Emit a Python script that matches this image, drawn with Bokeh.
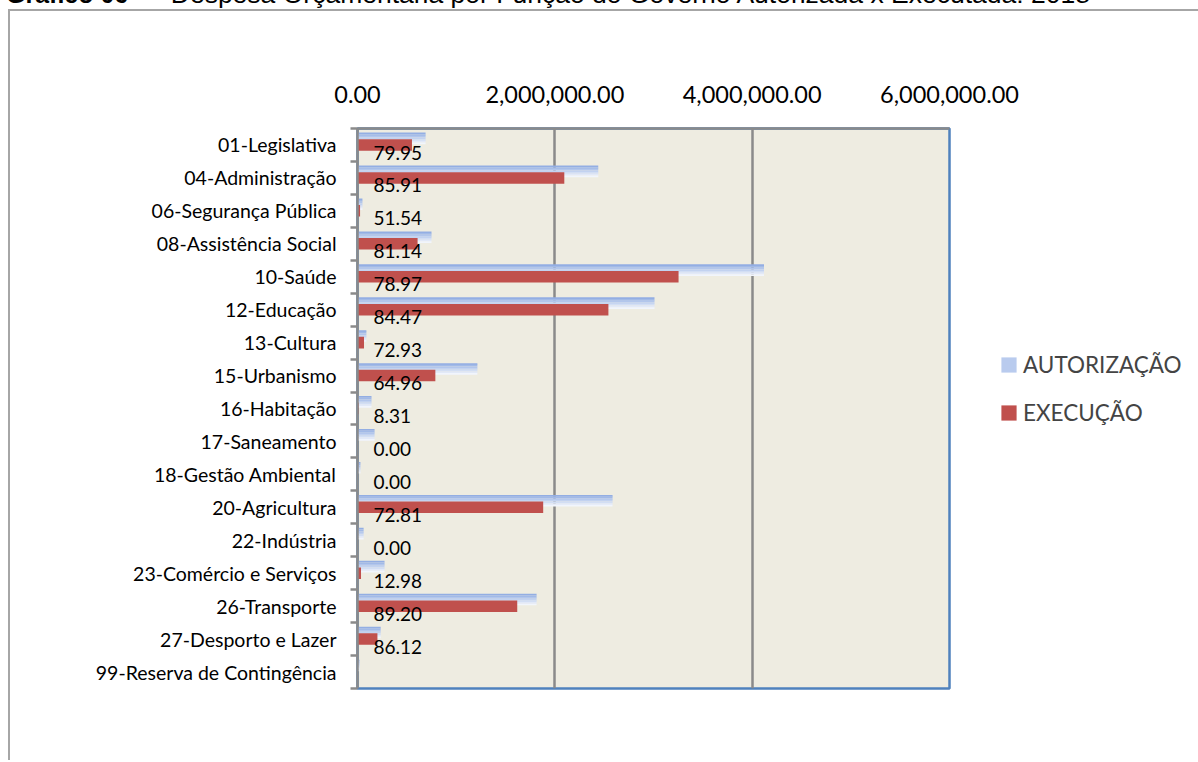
from bokeh.plotting import figure
from bokeh.layouts import column
from bokeh.models import (Range1d, FixedTicker, NumeralTickFormatter, Grid, Legend,
                          LegendItem, ColumnDataSource, Div)
from bokeh.embed import file_html
from bokeh.resources import INLINE
from bokeh.core.properties import value

# ---------------- data ----------------
categories = ["01-Legislativa", "04-Administração", "06-Segurança Pública",
              "08-Assistência Social", "10-Saúde", "12-Educação", "13-Cultura",
              "15-Urbanismo", "16-Habitação", "17-Saneamento", "18-Gestão Ambiental",
              "20-Agricultura", "22-Indústria", "23-Comércio e Serviços",
              "26-Transporte", "27-Desporto e Lazer", "99-Reserva de Contingência"]
autorizacao = [690000, 2440000, 50000, 750000, 4120000, 3010000, 90000, 1215000,
               142000, 173000, 30000, 2585000, 62000, 274000, 1815000, 235000, 20000]
execucao = [552000, 2096000, 26000, 609000, 3254000, 2543000, 66000, 789000,
            12000, 0, 0, 1882000, 0, 35600, 1619000, 202000, 0]
percentual = ["79.95", "85.91", "51.54", "81.14", "78.97", "84.47", "72.93", "64.96",
              "8.31", "0.00", "0.00", "72.81", "0.00", "12.98", "89.20", "86.12", ""]
x_ticks = [0, 2000000, 4000000, 6000000]
series_names = ["AUTORIZAÇÃO", "EXECUÇÃO"]
title_bold = "Gráfico 06"
title_dash = "–"
title_rest = "Despesa Orçamentária por Função do Governo Autorizada x Executada: 2018"

# ---------------- styles ----------------
RED = "#C0504D"
BLUE_GRAD = ["#93AEE3", "#A2BAE7", "#B2C6EC", "#C2D2F0", "#D2DEF4", "#E2E9F8", "#F1F5FC"]
GRID = "#8A8A8A"
LABEL_FONT = "Lato"

n = len(categories)
ypos = [n - i - 0.5 for i in range(n)]

# page geometry (targets, page pixels) and canvas origin on the page
OX, OY = 10, 11
PAGE_W, PAGE_H = 1196, 760
FL, FT, FW, FH = 357, 128, 590, 558
p = figure(frame_width=FW, frame_height=FH, output_backend="svg", toolbar_location=None,
           x_range=Range1d(0, x_ticks[-1]), y_range=Range1d(0, n),
           x_axis_location="above", y_axis_location="left",
           min_border_left=FL - OX, min_border_right=PAGE_W - FL - FW,
           min_border_top=FT - OY, min_border_bottom=PAGE_H - FT - FH)
p.margin = (0, 0, 0, 8)
p.styles = {"border-top": "2px solid #A6A6A6", "border-left": "2px solid #A6A6A6"}
p.background_fill_color = "#EEECE1"
p.border_fill_color = "white"
p.outline_line_color = "#4F81BD"
p.outline_line_width = 2.5
p.xgrid.visible = False
p.ygrid.visible = False

# top axis
xa = p.xaxis[0]
xa.ticker = FixedTicker(ticks=x_ticks)
xa.formatter = NumeralTickFormatter(format="0,0.00")
xa.major_tick_line_color = None
xa.minor_tick_line_color = None
xa.axis_line_color = GRID
xa.axis_line_width = 2.5
xa.major_label_text_font = LABEL_FONT
xa.major_label_text_font_size = "23.5px"
xa.major_label_text_color = "black"
xa.major_label_standoff = 20

# left axis with category labels, ticks between categories
ya = p.yaxis[0]
ya.ticker = FixedTicker(ticks=ypos, minor_ticks=list(range(n + 1)))
ya.major_label_overrides = {y: c for y, c in zip(ypos, categories)}
ya.major_tick_line_color = None
ya.major_tick_out = 0
ya.minor_tick_out = 7
ya.minor_tick_in = 0
ya.minor_tick_line_color = GRID
ya.minor_tick_line_width = 2.5
ya.axis_line_color = GRID
ya.axis_line_width = 2.5
ya.major_label_text_font = LABEL_FONT
ya.major_label_text_font_size = "19.5px"
ya.major_label_text_color = "black"
ya.major_label_standoff = 14

p.add_layout(Grid(dimension=0, ticker=FixedTicker(ticks=x_ticks[1:-1]),
                  grid_line_color=GRID, grid_line_width=2.5))

# AUTORIZAÇÃO bars (vertical gradient built from thin slices)
bar_h = 0.35
blue_off = 0.2
nsl = len(BLUE_GRAD)
for k, col in enumerate(BLUE_GRAD):
    sl_h = bar_h / nsl
    yc = [y + blue_off + bar_h / 2 - sl_h * (k + 0.5) for y in ypos]
    src = ColumnDataSource(dict(y=yc, right=autorizacao))
    p.hbar(y="y", left=0, right="right", height=sl_h * 1.05, source=src,
           fill_color=col, line_color=None)

# EXECUÇÃO bars
red_src = ColumnDataSource(dict(y=ypos, right=execucao))
red_r = p.hbar(y="y", left=0, right="right", height=bar_h, source=red_src,
               fill_color=RED, line_color=None)

# data labels
lab_src = ColumnDataSource(dict(y=[y - 0.23 for y in ypos], x=[0] * n, t=percentual))
p.text(x="x", y="y", text="t", source=lab_src, x_offset=16, text_baseline="middle",
       text_align="left", text_font=value(LABEL_FONT), text_font_size="19px",
       text_color="black")

# legend
legend_blue = p.hbar(y=[ypos[0]], left=0, right=0, height=0, fill_color="#B9CBEE",
                     line_color=None)
legend = Legend(items=[LegendItem(label=series_names[0], renderers=[legend_blue]),
                       LegendItem(label=series_names[1], renderers=[red_r])],
                location=(50, 262), glyph_width=19, glyph_height=19,
                label_text_font=LABEL_FONT, label_text_font_size="22.5px",
                label_standoff=5, spacing=21, padding=0, margin=0,
                border_line_color=None, background_fill_alpha=0)
p.add_layout(legend, "right")

# caption at the very top (cut by the page edge, as in the reference)
title_html = ('<div style="position:relative; top:-18px; margin-left:6px; white-space:nowrap; '
              'font-family:\'Liberation Sans\'; line-height:25px; color:black;">'
              '<b style="font-size:25px;">%s</b>'
              '<span style="font-size:26px; margin-left:9px;">%s</span>'
              '<span style="font-size:26.5px; margin-left:19px;">%s</span></div>'
              % (title_bold, title_dash, title_rest))
title_div = Div(text=title_html, width=PAGE_W, height=9, margin=(0, 0, 0, 0),
                styles={"overflow": "visible"})

root = column(title_div, p, spacing=0)
open("out.html", "w").write(file_html(root, INLINE))
